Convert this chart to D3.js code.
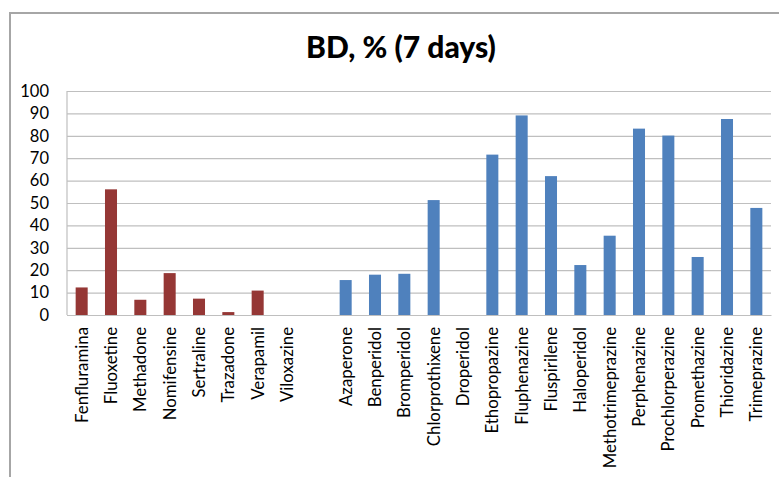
<!DOCTYPE html>
<html>
<head>
<meta charset="utf-8">
<script src="https://cdn.jsdelivr.net/npm/d3@7"></script>
<style>
  html, body { margin: 0; padding: 0; background: #fff; }
  svg { display: block; }
  text { font-family: Lato, "Open Sans", sans-serif; fill: #000; }
</style>
</head>
<body>
<script>
const titleText = "BD, % (7 days)";
const groupACats = ["Fenfluramina", "Fluoxetine", "Methadone", "Nomifensine", "Sertraline", "Trazadone", "Verapamil", "Viloxazine"];
const groupAValues = [12.3, 56.1, 6.8, 18.7, 7.3, 1.3, 10.9, 0];
const gapCat = " ";
const groupBCats = ["Azaperone", "Benperidol", "Bromperidol", "Chlorprothixene", "Droperidol", "Ethopropazine", "Fluphenazine", "Fluspirilene", "Haloperidol", "Methotrimeprazine", "Perphenazine", "Prochlorperazine", "Promethazine", "Thioridazine", "Trimeprazine"];
const groupBValues = [15.6, 18.0, 18.4, 51.3, 0, 71.6, 89.1, 62.0, 22.3, 35.4, 83.2, 80.1, 25.9, 87.5, 47.8];
const yTicks = [0, 10, 20, 30, 40, 50, 60, 70, 80, 90, 100];
const colorA = "#953735";
const colorB = "#4F81BD";

const W = 779, H = 477;
const plot = { left: 67, right: 771, top: 91, bottom: 315 };

const svg = d3.select("body").append("svg").attr("width", W).attr("height", H);

// outer chart frame
svg.append("rect")
  .attr("x", 10).attr("y", 13).attr("width", 820).attr("height", 520)
  .attr("fill", "none").attr("stroke", "#a6a6a6").attr("stroke-width", 2);

// title
svg.append("text")
  .attr("x", 401).attr("y", 58)
  .attr("text-anchor", "middle")
  .style("font-size", "30px").style("font-weight", "900")
  .text(titleText);

const x = d3.scaleBand()
  .domain([...groupACats, gapCat, ...groupBCats])
  .range([plot.left, plot.right])
  .paddingInner(0.59).paddingOuter(0.295);

const y = d3.scaleLinear().domain([0, 100]).range([plot.bottom, plot.top]);

// y axis with gridlines
const yAxis = svg.append("g")
  .attr("transform", `translate(${plot.left},0)`)
  .call(d3.axisLeft(y).tickValues(yTicks).tickSize(-(plot.right - plot.left)).tickPadding(18));
yAxis.select(".domain").remove();
yAxis.selectAll(".tick line").attr("stroke", "#bfbfbf").attr("stroke-width", 1.2);
yAxis.selectAll(".tick text").style("font-size", "16.5px").style("fill", "#000");

// plot-area left line
svg.append("line")
  .attr("x1", plot.left).attr("x2", plot.left)
  .attr("y1", plot.top).attr("y2", plot.bottom)
  .attr("stroke", "#bfbfbf").attr("stroke-width", 1.2);

// bars
const dataA = groupACats.map((c, i) => ({ cat: c, v: groupAValues[i], color: colorA }));
const dataB = groupBCats.map((c, i) => ({ cat: c, v: groupBValues[i], color: colorB }));
svg.append("g").selectAll("rect")
  .data([...dataA, ...dataB].filter(d => d.v > 0))
  .join("rect")
  .attr("x", d => x(d.cat))
  .attr("width", x.bandwidth())
  .attr("y", d => y(d.v))
  .attr("height", d => y(0) - y(d.v))
  .attr("fill", d => d.color);

// x axis
const xAxis = svg.append("g")
  .attr("transform", `translate(0,${plot.bottom})`)
  .call(d3.axisBottom(x).tickSize(0));
xAxis.select(".domain").attr("stroke", "#bfbfbf").attr("stroke-width", 1.2);
xAxis.selectAll(".tick text")
  .attr("transform", "rotate(-90)")
  .attr("x", -12).attr("y", 0).attr("dy", "0.35em")
  .attr("text-anchor", "end")
  .style("font-size", "16.8px").style("fill", "#000");
</script>
</body>
</html>
